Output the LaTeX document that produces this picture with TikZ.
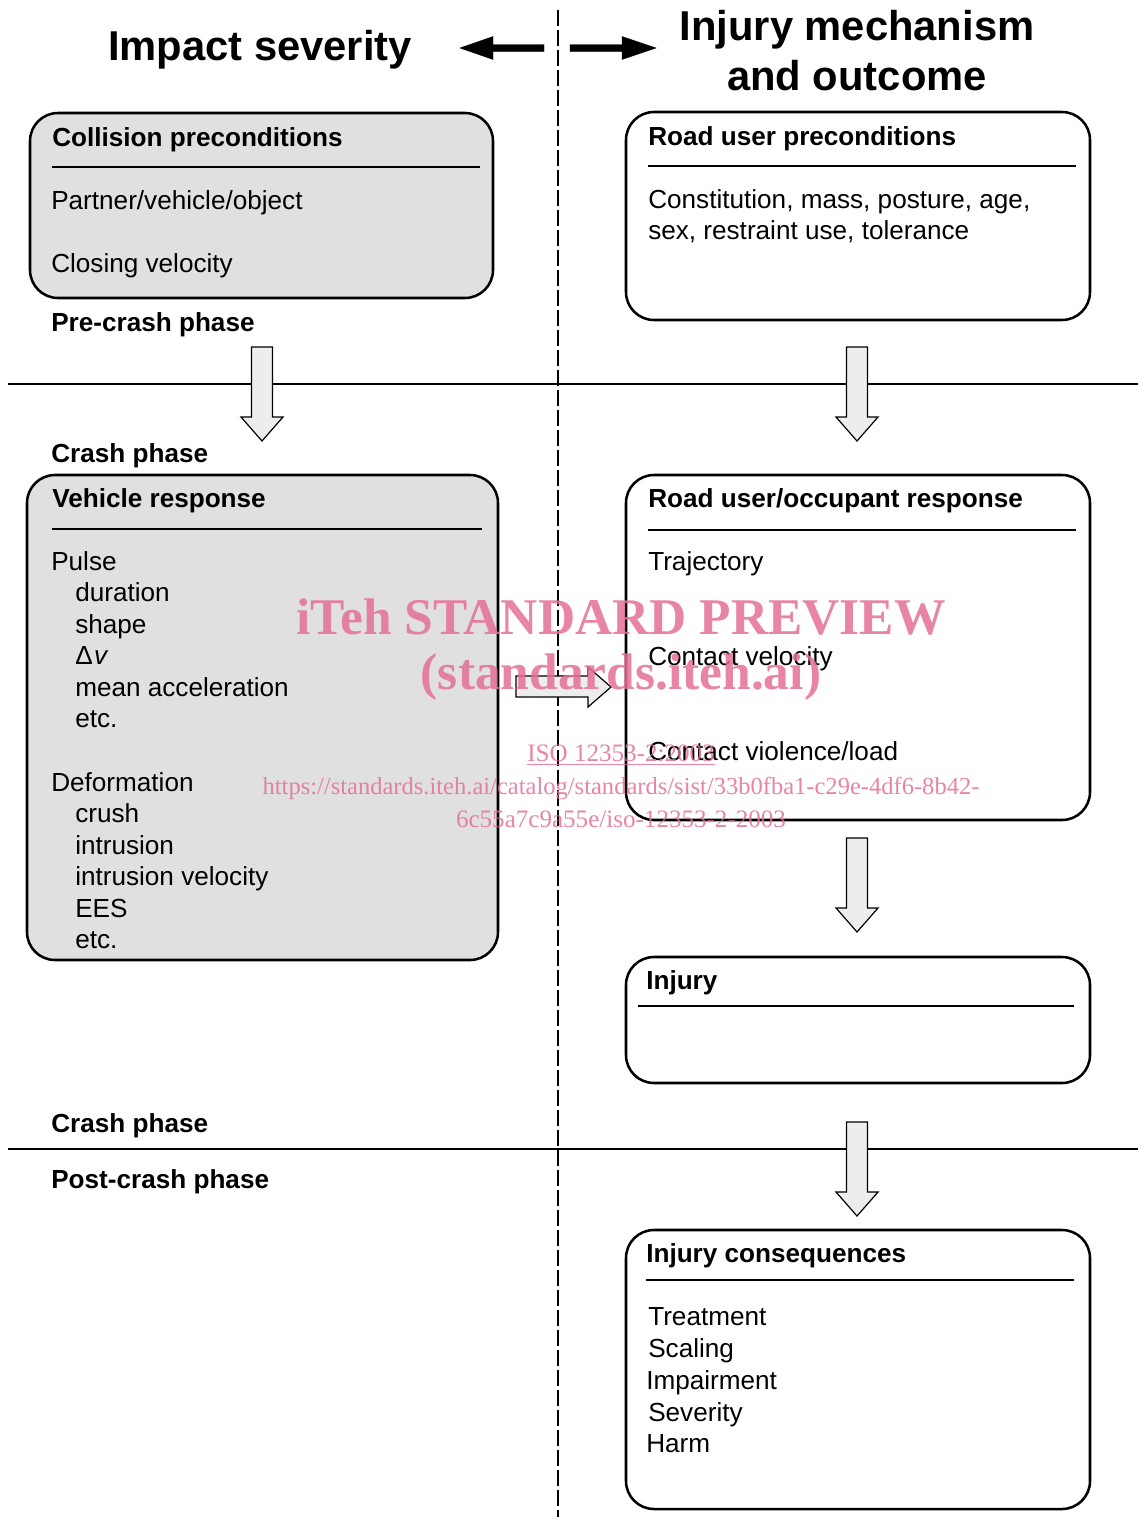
\documentclass[tikz,border=0pt]{standalone}
\usepackage{fontspec}
\setmainfont{Liberation Sans}
\newfontfamily\wmfont{Liberation Serif}
\definecolor{wmpink}{RGB}{228,112,150}
\begin{document}
\begin{tikzpicture}[x=0.75pt,y=-0.75pt,
  box/.style={line width=1.9pt,rounded corners=21pt},
  shaded/.style={box,fill=black!12},
  plain/.style={box,fill=white},
  rule/.style={line width=1.4pt},
  phase/.style={line width=0.8pt},
  head/.style={anchor=base west,inner sep=0pt,font=\fontsize{19.6pt}{23pt}\selectfont\bfseries},
  body/.style={anchor=base west,inner sep=0pt,font=\fontsize{19.6pt}{23pt}\selectfont},
  title/.style={anchor=base,inner sep=0pt,font=\fontsize{31.3pt}{37pt}\selectfont\bfseries},
  blockarrow/.style={line width=0.9pt,fill=black!7},
  wm/.style={inner sep=0pt,text=wmpink,text opacity=0.85},
  pics/downblock/.style={code={
    \draw[blockarrow] (-10.5,0) -- (10.5,0) -- (10.5,70) -- (21,70) -- (0,94)
      -- (-21,70) -- (-10.5,70) -- cycle;}}
]
\useasboundingbox (0,0) rectangle (1138,1517);

% column divider and phase boundaries
\draw[line width=1.1pt,dash pattern=on 12pt off 3pt] (558,10) -- (558,1517);
\draw[phase] (8,384) -- (1138,384);
\draw[phase] (8,1149) -- (1138,1149);

% column titles with pointing arrows
\node[title] (t1) at (260,60) {Impact severity};
\node[title] (t2) at (857,40) {Injury mechanism};
\node[title] (t3) at (857,90) {and outcome};
\coordinate (la) at (544,48);
\coordinate (ra) at (570,48);
\draw[fill=black,line width=0.3pt] (la) ++(0,-3.5) -- ++(-51,0) -- ++(0,-8) -- ++(-33,11.5)
  -- ++(33,11.5) -- ++(0,-8) -- ++(51,0) -- cycle;
\draw[fill=black,line width=0.3pt] (ra) ++(0,-3.5) -- ++(52,0) -- ++(0,-8) -- ++(34,11.5)
  -- ++(-34,11.5) -- ++(0,-8) -- ++(-52,0) -- cycle;

% collision preconditions
\draw[shaded] (30,113) rectangle (493,298);
\draw[rule] (52,167) -- (480,167);
\node[head] (cph) at (52,146) {Collision preconditions};
\node[body] (cp1) at (51,209) {Partner/vehicle/object};
\node[body] (cp2) at (51,272) {Closing velocity};

% road user preconditions
\draw[plain] (626,112) rectangle (1090,320);
\draw[rule] (648,166) -- (1076,166);
\node[head] (rph) at (648,145) {Road user preconditions};
\node[body] (rp1) at (648,208) {Constitution, mass, posture, age,};
\node[body] (rp2) at (648,239) {sex, restraint use, tolerance};

\node[head] (pre) at (51,331) {Pre-crash phase};
\pic at (262,347) {downblock};
\pic at (857,347) {downblock};
\node[head] (cr1) at (51,462) {Crash phase};

% vehicle response
\draw[shaded] (27,475) rectangle (498,960);
\draw[rule] (52,529) -- (482,529);
\node[head] (vrh) at (52,507) {Vehicle response};
\node[body] (v1) at (51,570) {Pulse};
\node[body] (v2) at (75,601) {duration};
\node[body] (v3) at (75,633) {shape};
\node[body] (v4) at (75,664) {Δ\kern1pt\itshape v};
\node[body] (v5) at (75,696) {mean acceleration};
\node[body] (v6) at (75,727) {etc.};
\node[body] (v7) at (51,791) {Deformation};
\node[body] (v8) at (75,822) {crush};
\node[body] (v9) at (75,854) {intrusion};
\node[body] (v10) at (75,885) {intrusion velocity};
\node[body] (v11) at (75,917) {EES};
\node[body] (v12) at (75,948) {etc.};

% road user / occupant response
\draw[plain] (626,475) rectangle (1090,820);
\draw[rule] (648,530) -- (1076,530);
\node[head] (orh) at (648,507) {Road user/occupant response};
\node[body] (o1) at (648,570) {Trajectory};
\node[body] (o2) at (648,665) {Contact velocity};
\node[body] (o3) at (648,760) {Contact violence/load};

% vehicle response acts on the occupant
\draw[blockarrow] (516,676) -- (588,676) -- (588,667) -- (611,687) -- (588,707)
  -- (588,697) -- (516,697) -- cycle;

\pic at (857,838) {downblock};

% injury
\draw[plain] (626,957) rectangle (1090,1083);
\draw[rule] (638,1006) -- (1074,1006);
\node[head] (inj) at (646,989) {Injury};

\node[head] (cr2) at (51,1132) {Crash phase};
\node[head] (post) at (51,1188) {Post-crash phase};
\pic at (857,1122) {downblock};

% injury consequences
\draw[plain] (626,1230) rectangle (1090,1509);
\draw[rule] (646,1280) -- (1074,1280);
\node[head] (ich) at (646,1262) {Injury consequences};
\node[body] (i1) at (648,1325) {Treatment};
\node[body] (i2) at (648,1357) {Scaling};
\node[body] (i3) at (646,1389) {Impairment};
\node[body] (i4) at (648,1421) {Severity};
\node[body] (i5) at (646,1452) {Harm};

% preview stamp
\node[wm,font=\wmfont\fontsize{38.6pt}{40pt}\selectfont\bfseries] (w1) at (621,617) {iTeh STANDARD PREVIEW};
\node[wm,font=\wmfont\fontsize{38.6pt}{40pt}\selectfont\bfseries] (w2) at (621,677) {(standards.iteh.ai)};
\node[wm,font=\wmfont\fontsize{18.8pt}{20pt}\selectfont] (w3) at (621,755) {\underline{ISO 12353-2:2003}};
\node[wm,font=\wmfont\fontsize{18.4pt}{20pt}\selectfont] (w4) at (621,788) {https://standards.iteh.ai/catalog/standards/sist/33b0fba1-c29e-4df6-8b42-};
\node[wm,font=\wmfont\fontsize{18.8pt}{20pt}\selectfont] (w5) at (621,819) {6c55a7c9a55e/iso-12353-2-2003};
\end{tikzpicture}
\end{document}
